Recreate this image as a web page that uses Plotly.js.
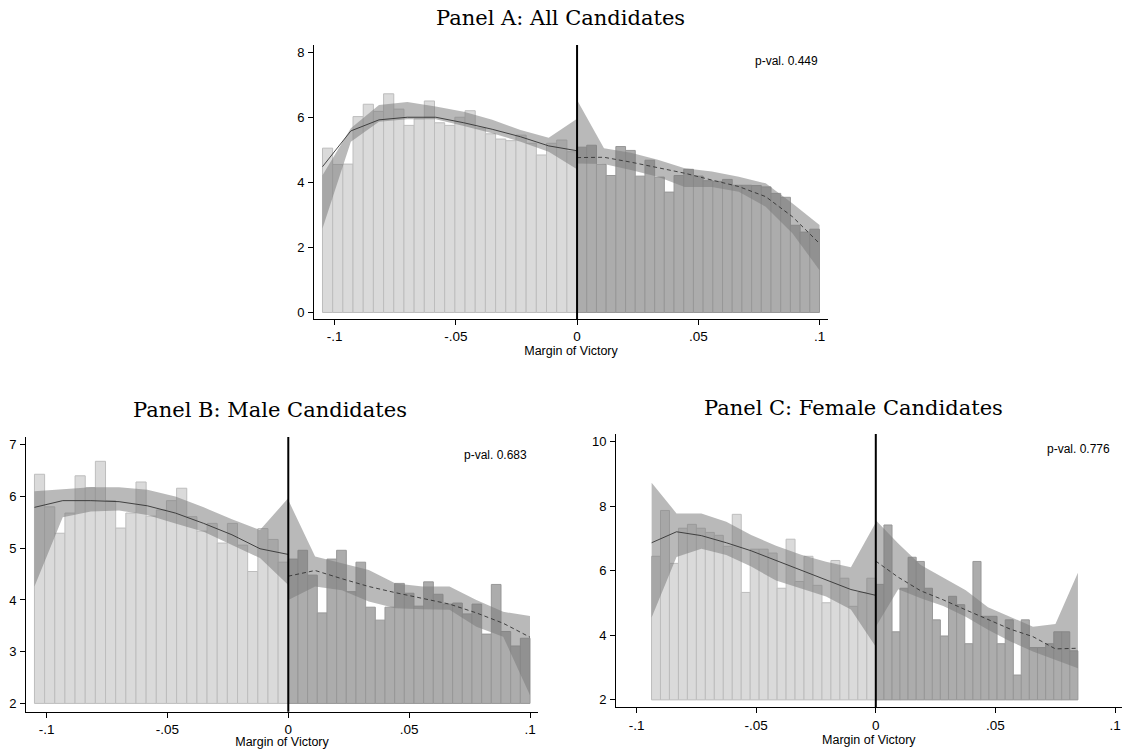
<!DOCTYPE html>
<html>
<head>
<meta charset="utf-8">
<script src="https://cdn.plot.ly/plotly-3.0.1.min.js"></script>
<style>html,body{margin:0;padding:0;background:#fff;}#chart{width:1125px;height:749px;}</style>
</head>
<body>
<div id="chart"></div>
<script>
// ---------- DATA ----------
// x tick labels (Stata style)
const xTickVals = [-0.1, -0.05, 0, 0.05, 0.1];
const xTickText = ['-.1', '-.05', '0', '.05', '.1'];

// Panel A: All candidates — histogram bins (centers) and heights
const A_binW_left = 0.0042, A_binW_right = 0.004;
const A_left_x = [-0.1029,-0.0987,-0.0945,-0.0903,-0.0861,-0.0819,-0.0777,-0.0735,-0.0693,-0.0651,-0.0609,-0.0567,-0.0525,-0.0483,-0.0441,-0.0399,-0.0357,-0.0315,-0.0273,-0.0231,-0.0189,-0.0147,-0.0105,-0.0063,-0.0021];
const A_left_h = [5.05,4.55,4.56,6.02,6.40,6.18,6.72,6.25,5.75,5.95,6.50,5.83,5.75,6.00,6.20,5.67,5.49,5.33,5.28,5.45,5.20,4.84,5.20,5.30,4.94];
const A_right_x = [0.002,0.006,0.010,0.014,0.018,0.022,0.026,0.030,0.034,0.038,0.042,0.046,0.050,0.054,0.058,0.062,0.066,0.070,0.074,0.078,0.082,0.086,0.090,0.094,0.098];
const A_right_h = [5.08,5.14,4.55,4.21,5.10,4.98,4.19,4.68,4.16,3.70,4.21,4.40,4.19,4.05,4.03,4.09,3.91,3.91,3.90,3.86,3.66,3.54,2.68,2.47,2.56];
// Panel A fits (local polynomial) and CI
const A_fitL_x = [-0.105,-0.0933,-0.0817,-0.07,-0.0583,-0.0467,-0.035,-0.0233,-0.0117,0];
const A_fitL   = [4.48,5.58,5.92,6.00,6.00,5.83,5.63,5.40,5.12,4.97];
const A_fitL_hi= [4.22,5.66,6.38,6.47,6.33,6.17,5.92,5.61,5.37,5.95];
const A_fitL_lo= [2.58,5.25,5.86,5.94,5.94,5.73,5.51,5.25,4.94,4.40];
const A_fitR_x = [0,0.0111,0.0222,0.0333,0.0444,0.0556,0.0667,0.0778,0.0889,0.1];
const A_fitR   = [4.76,4.77,4.62,4.46,4.28,4.07,3.87,3.56,2.94,2.12];
const A_fitR_hi= [6.53,5.05,4.91,4.69,4.43,4.33,4.17,3.97,3.35,2.69];
const A_fitR_lo= [4.58,4.56,4.38,4.17,3.86,3.86,3.71,3.25,2.43,1.30];

// Panel B: Male candidates
const B_binW_left = 0.0042, B_binW_right = 0.004;
const B_left_x = A_left_x.slice();
const B_left_h = [6.43,5.80,5.29,5.68,6.40,6.17,6.68,5.92,5.39,5.68,6.28,5.62,5.74,5.92,6.16,5.61,5.33,5.48,5.10,5.48,5.06,4.55,5.38,5.17,4.73];
const B_right_x = A_right_x.slice();
const B_right_h = [4.79,4.96,4.48,3.75,4.79,4.96,4.16,4.73,3.86,3.61,3.86,4.32,4.13,3.88,4.35,4.11,3.92,3.94,3.73,3.92,3.34,4.30,3.39,3.11,3.26];
const B_fitL_x = A_fitL_x.slice();
const B_fitL   = [5.79,5.92,5.92,5.90,5.82,5.68,5.48,5.26,4.99,4.88];
const B_fitL_hi= [6.10,6.14,6.18,6.18,6.13,6.00,5.79,5.56,5.35,5.97];
const B_fitL_lo= [4.26,5.60,5.71,5.73,5.64,5.48,5.32,5.06,4.81,4.29];
const B_fitR_x = A_fitR_x.slice();
const B_fitR   = [4.46,4.57,4.41,4.26,4.14,4.03,3.92,3.75,3.55,3.28];
const B_fitR_hi= [5.93,4.84,4.71,4.58,4.32,4.26,4.26,4.00,3.77,3.69];
const B_fitR_lo= [4.00,4.26,4.19,3.97,3.84,3.82,3.81,3.48,3.29,2.16];

// Panel C: Female candidates
const C_binW_left = 0.00375, C_binW_right = 0.00338;
const C_left_x = [-0.091875,-0.088125,-0.084375,-0.080625,-0.076875,-0.073125,-0.069375,-0.065625,-0.061875,-0.058125,-0.054375,-0.050625,-0.046875,-0.043125,-0.039375,-0.035625,-0.031875,-0.028125,-0.024375,-0.020625,-0.016875,-0.013125,-0.009375,-0.005625,-0.001875];
const C_left_h = [6.45,7.87,6.23,7.32,7.44,7.32,7.19,7.10,6.76,7.75,5.33,6.67,6.67,6.55,5.46,6.98,5.67,6.45,5.55,5.01,6.32,5.77,4.90,5.33,5.77];
const C_right_x = [0.0017,0.0051,0.0085,0.0118,0.0152,0.0186,0.0220,0.0253,0.0287,0.0321,0.0355,0.0389,0.0423,0.0456,0.0490,0.0524,0.0558,0.0592,0.0625,0.0659,0.0693,0.0727,0.0761,0.0794,0.0828];
const C_right_h = [5.58,7.42,4.11,5.46,6.42,6.29,5.46,4.48,3.98,5.21,4.95,3.74,6.29,4.59,4.59,3.74,4.48,2.77,4.48,3.62,3.62,3.74,4.11,4.11,3.52];
const C_fitL_x = [-0.0937,-0.0833,-0.0729,-0.0625,-0.0521,-0.0417,-0.0312,-0.0208,-0.0104,0];
const C_fitL   = [6.87,7.21,7.09,6.87,6.62,6.32,6.00,5.70,5.42,5.24];
const C_fitL_hi= [8.73,7.78,7.78,7.52,7.11,6.78,6.50,6.28,6.11,7.50];
const C_fitL_lo= [4.55,6.43,6.68,6.49,6.13,5.70,5.45,5.20,4.80,3.65];
const C_fitR_x = [0,0.0094,0.0188,0.0282,0.0376,0.0469,0.0563,0.0657,0.0751,0.0845];
const C_fitR   = [6.30,5.80,5.38,5.10,4.79,4.50,4.19,3.96,3.58,3.60];
const C_fitR_hi= [7.57,6.85,6.18,5.80,5.40,4.87,4.56,4.27,4.35,5.94];
const C_fitR_lo= [4.27,5.43,5.15,4.91,4.58,4.17,3.81,3.50,3.24,2.98];

// Text
const titles = ['Panel A: All Candidates', 'Panel B: Male Candidates', 'Panel C: Female Candidates'];
const pvals = ['p-val. 0.449', 'p-val. 0.683', 'p-val. 0.776'];
const xTitle = 'Margin of Victory';

// ---------- STYLE ----------
const LEFT_FILL = '#dadada', LEFT_LINE = '#bdbdbd';
const RIGHT_FILL = '#acacac', RIGHT_LINE = '#979797';
const BAND = 'rgba(120,120,120,0.52)';
const SANS = 'Liberation Sans, Arial, sans-serif';
const SERIF = 'DejaVu Serif, serif';

const traces = [];
function bars(x, h, w, base, fill, line, xa, ya) {
  traces.push({type:'bar', x:x, y:h.map(v => v - base), base:base, width:w,
    marker:{color:fill, line:{color:line, width:1}}, xaxis:xa, yaxis:ya,
    showlegend:false, hoverinfo:'skip'});
}
function band(x, hi, lo, xa, ya) {
  traces.push({type:'scatter', mode:'lines', x:x.concat(x.slice().reverse()),
    y:hi.concat(lo.slice().reverse()), fill:'toself', fillcolor:BAND,
    line:{width:0, color:'rgba(0,0,0,0)'}, xaxis:xa, yaxis:ya, showlegend:false, hoverinfo:'skip'});
}
function fit(x, y, dash, xa, ya) {
  traces.push({type:'scatter', mode:'lines', x:x, y:y,
    line:{color:'#333', width:0.9, dash:dash}, xaxis:xa, yaxis:ya, showlegend:false, hoverinfo:'skip'});
}
function panel(p, xa, ya, base) {
  bars(p.lx, p.lh, p.lw, base, LEFT_FILL, LEFT_LINE, xa, ya);
  bars(p.rx, p.rh, p.rw, base, RIGHT_FILL, RIGHT_LINE, xa, ya);
  band(p.fLx, p.fLhi, p.fLlo, xa, ya);
  band(p.fRx, p.fRhi, p.fRlo, xa, ya);
  fit(p.fLx, p.fL, 'solid', xa, ya);
  fit(p.fRx, p.fR, '4px,3px', xa, ya);
}
panel({lx:A_left_x, lh:A_left_h, lw:A_binW_left, rx:A_right_x, rh:A_right_h, rw:A_binW_right,
  fLx:A_fitL_x, fL:A_fitL, fLhi:A_fitL_hi, fLlo:A_fitL_lo, fRx:A_fitR_x, fR:A_fitR, fRhi:A_fitR_hi, fRlo:A_fitR_lo}, 'x', 'y', 0);
panel({lx:B_left_x, lh:B_left_h, lw:B_binW_left, rx:B_right_x, rh:B_right_h, rw:B_binW_right,
  fLx:B_fitL_x, fL:B_fitL, fLhi:B_fitL_hi, fLlo:B_fitL_lo, fRx:B_fitR_x, fR:B_fitR, fRhi:B_fitR_hi, fRlo:B_fitR_lo}, 'x2', 'y2', 2);
panel({lx:C_left_x, lh:C_left_h, lw:C_binW_left, rx:C_right_x, rh:C_right_h, rw:C_binW_right,
  fLx:C_fitL_x, fL:C_fitL, fLhi:C_fitL_hi, fLlo:C_fitL_lo, fRx:C_fitR_x, fR:C_fitR, fRhi:C_fitR_hi, fRlo:C_fitR_lo}, 'x3', 'y3', 2);

const W = 1125, H = 749;
function xAxis(l, r, range, anchor) {
  return {domain:[l/W, r/W], range:range, anchor:anchor, showgrid:false, zeroline:false,
    showline:true, linecolor:'#000', linewidth:1, ticks:'outside', ticklen:5, tickwidth:1, tickcolor:'#000',
    tickvals:xTickVals, ticktext:xTickText, tickfont:{family:SANS, size:13.5, color:'#000'},
    title:{text:xTitle, font:{family:SANS, size:12.5, color:'#000'}, standoff:1}};
}
function yAxis(top, bot, range, vals, anchor) {
  return {domain:[1 - bot/H, 1 - top/H], range:range, anchor:anchor, showgrid:false, zeroline:false,
    showline:true, linecolor:'#000', linewidth:1, ticks:'outside', ticklen:5, tickwidth:1, tickcolor:'#000',
    tickvals:vals, tickfont:{family:SANS, size:13, color:'#000'}, tickangle:0, ticklabelstandoff:1};
}

const layout = {
  width:W, height:H, margin:{l:0, r:0, t:0, b:0}, paper_bgcolor:'#fff', plot_bgcolor:'#fff',
  barmode:'overlay', showlegend:false,
  xaxis: xAxis(314, 828, [-0.1085, 0.1035], 'y'),
  yaxis: yAxis(45, 319, [-0.2, 8.22], [0,2,4,6,8], 'x'),
  xaxis2: xAxis(26, 538, [-0.1085, 0.1033], 'y2'),
  yaxis2: yAxis(437, 711.7, [1.84, 7.15], [2,3,4,5,6,7], 'x2'),
  xaxis3: xAxis(616, 1121.7, [-0.1086, 0.1028], 'y3'),
  yaxis3: yAxis(434, 707.3, [1.77, 10.24], [2,4,6,8,10], 'x3'),
  shapes: [
    {type:'line', xref:'x', yref:'y domain', x0:0, x1:0, y0:0, y1:1, line:{color:'#000', width:2}},
    {type:'line', xref:'x2', yref:'y2 domain', x0:0, x1:0, y0:0, y1:1, line:{color:'#000', width:2}},
    {type:'line', xref:'x3', yref:'y3 domain', x0:0, x1:0, y0:0, y1:1, line:{color:'#000', width:2}}
  ],
  annotations: [
    {text:titles[0], xref:'paper', yref:'paper', x:560/W, y:1 - 18/H, xanchor:'center', yanchor:'middle', showarrow:false, font:{family:SERIF, size:21, color:'#000'}},
    {text:titles[1], xref:'paper', yref:'paper', x:270/W, y:1 - 410/H, xanchor:'center', yanchor:'middle', showarrow:false, font:{family:SERIF, size:21, color:'#000'}},
    {text:titles[2], xref:'paper', yref:'paper', x:853/W, y:1 - 408/H, xanchor:'center', yanchor:'middle', showarrow:false, font:{family:SERIF, size:21, color:'#000'}},
    {text:pvals[0], xref:'paper', yref:'paper', x:786/W, y:1 - 61/H, xanchor:'center', yanchor:'middle', showarrow:false, font:{family:SANS, size:12, color:'#000'}},
    {text:pvals[1], xref:'paper', yref:'paper', x:495/W, y:1 - 455/H, xanchor:'center', yanchor:'middle', showarrow:false, font:{family:SANS, size:12, color:'#000'}},
    {text:pvals[2], xref:'paper', yref:'paper', x:1078/W, y:1 - 449/H, xanchor:'center', yanchor:'middle', showarrow:false, font:{family:SANS, size:12, color:'#000'}}
  ]
};

Plotly.newPlot('chart', traces, layout, {staticPlot:true, displayModeBar:false});
</script>
</body>
</html>
